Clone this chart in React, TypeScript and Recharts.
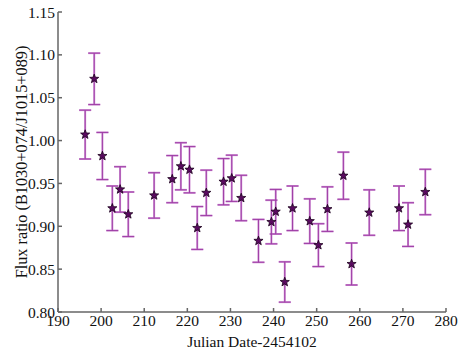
import React from 'react';
import { ScatterChart, Scatter, XAxis, YAxis, ErrorBar } from 'recharts';

const julianDates = [196.3, 198.4, 200.3, 202.6, 204.4, 206.3, 212.3, 216.5, 218.5, 220.5, 222.3, 224.4, 228.4, 230.3, 232.5, 236.5, 239.5, 240.5, 242.6, 244.4, 248.4, 250.4, 252.5, 256.2, 258.1, 262.2, 269.1, 271.2, 275.2];
const fluxRatios = [1.007, 1.072, 0.982, 0.921, 0.943, 0.914, 0.936, 0.955, 0.970, 0.966, 0.898, 0.939, 0.952, 0.956, 0.933, 0.883, 0.905, 0.917, 0.835, 0.921, 0.906, 0.878, 0.920, 0.959, 0.856, 0.916, 0.921, 0.902, 0.940];
const fluxErrors = [0.0285, 0.030, 0.0275, 0.026, 0.0265, 0.026, 0.0265, 0.0275, 0.0275, 0.027, 0.025, 0.0265, 0.027, 0.027, 0.0265, 0.025, 0.0255, 0.026, 0.0235, 0.026, 0.026, 0.025, 0.026, 0.0275, 0.0245, 0.0265, 0.026, 0.0255, 0.0265];

const xTicks = [190, 200, 210, 220, 230, 240, 250, 260, 270, 280];
const yTicks = [0.80, 0.85, 0.90, 0.95, 1.00, 1.05, 1.10, 1.15];

const data = julianDates.map((x, i) => ({ x, y: fluxRatios[i], err: fluxErrors[i] }));

const FONT = '"Liberation Serif", "DejaVu Serif", serif';
const AXIS = '#666666';

const Star = (props: any) => {
  const { cx, cy } = props;
  if (cx == null || cy == null) return null;
  const R = 4.8;
  const r = 2.0;
  const pts: string[] = [];
  for (let i = 0; i < 10; i++) {
    const rad = i % 2 === 0 ? R : r;
    const a = -Math.PI / 2 + (i * Math.PI) / 5;
    pts.push(`${cx + rad * Math.cos(a)},${cy + rad * Math.sin(a)}`);
  }
  return <polygon points={pts.join(' ')} fill="#5a0a60" stroke="#1a001c" strokeWidth={0.8} />;
};

export default function App() {
  return (
    <div style={{ position: 'absolute', left: 0, top: 0, width: 463, height: 349, background: '#fff' }}>
      <ScatterChart width={463} height={349} margin={{ top: 12, right: 17, left: 0, bottom: 0 }}>
        <XAxis
          xAxisId="bottom"
          type="number"
          dataKey="x"
          domain={[190, 280]}
          ticks={xTicks}
          allowDataOverflow
          height={37}
          tickSize={-4}
          tickMargin={7}
          stroke={AXIS}
          strokeWidth={1.5}
          tick={{ fill: '#111', fontFamily: FONT, fontSize: 15.5 }}
          label={{ value: 'Julian Date-2454102', position: 'insideBottom', offset: 2, fill: '#111', fontFamily: FONT, fontSize: 15.5 }}
        />
        <XAxis
          xAxisId="top"
          orientation="top"
          type="number"
          dataKey="x"
          domain={[190, 280]}
          ticks={xTicks}
          allowDataOverflow
          height={0}
          tickSize={-4}
          tickFormatter={() => ''}
          stroke={AXIS}
          strokeWidth={1.5}
        />
        <YAxis
          yAxisId="left"
          type="number"
          dataKey="y"
          domain={[0.8, 1.15]}
          ticks={yTicks}
          allowDataOverflow
          width={58}
          tickSize={-4}
          tickMargin={7}
          stroke={AXIS}
          strokeWidth={1.5}
          tickFormatter={(v: number) => v.toFixed(2)}
          tick={{ fill: '#111', fontFamily: FONT, fontSize: 15.5 }}
          label={{ value: 'Flux ratio (B1030+074/J1015+089)', angle: -90, position: 'insideLeft', offset: 21, style: { textAnchor: 'middle' }, fill: '#111', fontFamily: FONT, fontSize: 16.3 }}
        />
        <YAxis
          yAxisId="right"
          orientation="right"
          type="number"
          dataKey="y"
          domain={[0.8, 1.15]}
          ticks={yTicks}
          allowDataOverflow
          width={0}
          tickSize={-4}
          tickFormatter={() => ''}
          stroke={AXIS}
          strokeWidth={1.5}
        />
        <Scatter
          data={data}
          xAxisId="bottom"
          yAxisId="left"
          shape={<Star />}
          isAnimationActive={false}
        >
          <ErrorBar dataKey="err" direction="y" width={6} stroke="#cf90d4" strokeWidth={2} />
          <ErrorBar dataKey="err" direction="y" width={6} stroke="#9a35a2" strokeWidth={0.9} />
        </Scatter>
      </ScatterChart>
    </div>
  );
}
